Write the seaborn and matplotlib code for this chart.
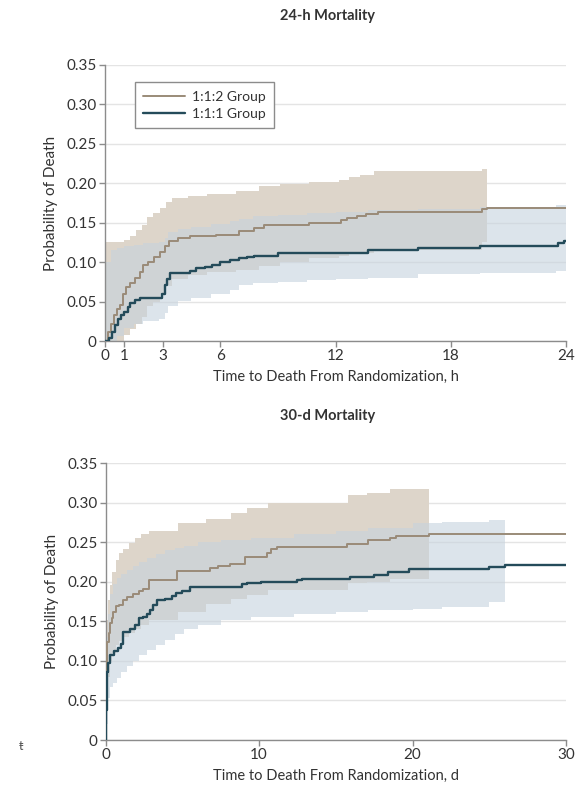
import numpy as np
import pandas as pd
import matplotlib
matplotlib.use("Agg")
import matplotlib.pyplot as plt
import seaborn as sns

# ---------------- 24-hour mortality (time in hours) ----------------
t112_h = [0, 0.15, 0.3, 0.45, 0.6, 0.8, 0.95, 1.1, 1.3, 1.55, 1.8, 2.0, 2.25, 2.55, 2.85,
          3.1, 3.35, 3.8, 4.4, 5.8, 7.0, 7.75, 8.3, 10.6, 12.3, 12.6, 13.1, 13.6, 14.2,
          19.6, 19.9, 24]
p112_h = [0, 0.012, 0.022, 0.033, 0.04, 0.046, 0.06, 0.068, 0.074, 0.08, 0.088, 0.096,
          0.1, 0.106, 0.113, 0.12, 0.127, 0.131, 0.133, 0.135, 0.139, 0.143, 0.147, 0.150,
          0.153, 0.156, 0.159, 0.161, 0.164, 0.167, 0.169, 0.169]

t111_h = [0, 0.2, 0.35, 0.5, 0.7, 0.85, 1.0, 1.2, 1.3, 1.55, 1.8, 2.95, 3.1, 3.25, 3.4,
          4.4, 4.75, 5.2, 5.55, 6.0, 6.5, 7.0, 7.4, 7.75, 9.0, 13.7, 16.3, 19.5, 23.6,
          23.9, 24]
p111_h = [0, 0.004, 0.012, 0.02, 0.028, 0.033, 0.037, 0.043, 0.048, 0.052, 0.054, 0.06,
          0.071, 0.079, 0.086, 0.089, 0.092, 0.094, 0.097, 0.1, 0.103, 0.105, 0.107, 0.108,
          0.112, 0.116, 0.118, 0.121, 0.124, 0.127, 0.127]

ci112_t_h = [0, 1.0, 1.3, 1.6, 1.9, 2.2, 2.5, 2.85, 3.2, 3.5, 4.3, 5.3, 6.8, 8.0, 9.1,
             10.6, 12.2, 12.7, 13.3, 14.0, 19.6, 19.9]
ci112_hi_h = [0.125, 0.128, 0.133, 0.141, 0.147, 0.157, 0.162, 0.169, 0.176, 0.181, 0.184,
              0.187, 0.19, 0.197, 0.199, 0.2015, 0.204, 0.208, 0.211, 0.2155, 0.2185, 0.2185]
ci112_lo_h = [0, 0.008, 0.015, 0.022, 0.03, 0.045, 0.05, 0.06, 0.07, 0.078, 0.084, 0.087,
              0.09, 0.095, 0.1, 0.105, 0.108, 0.11, 0.112, 0.115, 0.125, 0.127]

ci111_t_h = [0, 0.3, 0.6, 1.0, 1.5, 2.0, 2.8, 3.1, 3.3, 3.8, 4.5, 5.5, 6.5, 7.0, 7.7, 9.0,
             10.5, 12.0, 13.7, 16.3, 19.5, 23.5, 24]
ci111_lo_h = [0, 0, 0.006, 0.016, 0.022, 0.025, 0.028, 0.035, 0.045, 0.051, 0.055, 0.06,
              0.065, 0.071, 0.074, 0.075, 0.0775, 0.078, 0.08, 0.0845, 0.0866, 0.089, 0.089]
ci111_hi_h = [0.1, 0.115, 0.118, 0.12, 0.122, 0.124, 0.126, 0.13, 0.138, 0.142, 0.145, 0.148,
              0.152, 0.155, 0.158, 0.16, 0.162, 0.164, 0.166, 0.168, 0.17, 0.172, 0.172]

# ---------------- 30-day mortality (time in days) ----------------
t112_d = [0, 0.05, 0.1, 0.2, 0.3, 0.4, 0.5, 0.7, 0.9, 1.15, 1.4, 1.8, 2.15, 2.45, 2.85,
          4.65, 6.8, 7.3, 8.1, 9.1, 10.5, 10.8, 11.15, 15.7, 17.1, 18.5, 18.9, 21.1, 30]
p112_d = [0, 0.09, 0.124, 0.135, 0.148, 0.154, 0.162, 0.169, 0.171, 0.177, 0.181, 0.185,
          0.188, 0.191, 0.202, 0.214, 0.217, 0.22, 0.223, 0.231, 0.237, 0.241, 0.244,
          0.2475, 0.253, 0.255, 0.258, 0.261, 0.261]

t111_d = [0, 0.03, 0.08, 0.15, 0.3, 0.55, 0.8, 1.0, 1.15, 1.6, 1.9, 2.2, 2.45, 2.7, 2.9,
          3.1, 3.35, 3.9, 4.3, 4.6, 4.95, 5.5, 8.9, 9.2, 10.1, 12.5, 12.8, 15.9, 17.5,
          18.4, 19.8, 25.0, 26.0, 30]
p111_d = [0, 0.038, 0.086, 0.097, 0.108, 0.113, 0.116, 0.121, 0.137, 0.14, 0.145, 0.154,
          0.156, 0.16, 0.165, 0.171, 0.177, 0.179, 0.182, 0.1855, 0.189, 0.193, 0.197,
          0.1985, 0.2003, 0.2025, 0.2035, 0.2066, 0.209, 0.213, 0.216, 0.219, 0.222, 0.222]

ci112_t_d = [0, 0.05, 0.15, 0.3, 0.45, 0.65, 0.9, 1.15, 1.5, 1.9, 2.3, 2.85, 4.75, 6.55,
             8.2, 9.2, 10.6, 15.8, 17.0, 18.5, 21.06]
ci112_hi_d = [0.10, 0.152, 0.177, 0.196, 0.213, 0.228, 0.236, 0.242, 0.249, 0.255, 0.261,
              0.265, 0.275, 0.28, 0.287, 0.294, 0.30, 0.31, 0.313, 0.318, 0.318]
ci112_lo_d = [0, 0.05, 0.08, 0.1, 0.11, 0.12, 0.125, 0.13, 0.135, 0.14, 0.145, 0.152,
              0.162, 0.172, 0.178, 0.183, 0.19, 0.198, 0.2, 0.204, 0.207]

ci111_t_d = [0, 0.05, 0.15, 0.3, 0.5, 0.75, 1.0, 1.4, 1.8, 2.2, 2.7, 3.3, 3.9, 4.5, 5.1,
             6.0, 7.5, 9.5, 12.3, 15, 17.1, 20, 21.9, 25.0, 26.0]
ci111_lo_d = [0, 0.02, 0.053, 0.067, 0.072, 0.078, 0.0865, 0.093, 0.1, 0.107, 0.114, 0.12,
              0.1265, 0.134, 0.141, 0.146, 0.152, 0.156, 0.16, 0.162, 0.164, 0.166, 0.168,
              0.175, 0.175]
ci111_hi_d = [0.08, 0.13, 0.16, 0.185, 0.197, 0.205, 0.21, 0.215, 0.22, 0.225, 0.23, 0.235,
              0.24, 0.243, 0.246, 0.25, 0.253, 0.256, 0.26, 0.264, 0.268, 0.274, 0.276,
              0.278, 0.278]

groups = ["1:1:2 Group", "1:1:1 Group"]
line_colors = {"1:1:2 Group": "#9a8b78", "1:1:1 Group": "#244b5a"}
line_widths = {"1:1:2 Group": 1.4, "1:1:1 Group": 1.7}
band_112 = "#ddd5ca"
band_111 = "#c6d3de"

yticks = [0, 0.05, 0.10, 0.15, 0.20, 0.25, 0.30, 0.35]
ytick_labels = ["0", "0.05", "0.10", "0.15", "0.20", "0.25", "0.30", "0.35"]
xticks_h = [0, 1, 3, 6, 12, 18, 24]
xticks_d = [0, 10, 20, 30]

sns.set_theme(style="white")
plt.rcParams["font.family"] = ["Lato", "DejaVu Sans"]
TEXT = "#333333"
SPINE = "#8c8c8c"
FS = 11

fig = plt.figure(figsize=(5.77, 7.85), dpi=100)
ax_top = fig.add_axes([0.182, 0.5656, 0.799, 0.3516])
ax_bot = fig.add_axes([0.183, 0.0573, 0.798, 0.3525])


def draw_panel(ax, t112, p112, t111, p111, c112, c111, xticks, xmax, xlabel, legend):
    # confidence bands (step functions)
    ax.fill_between(c112[0], c112[1], c112[2], step="post", color=band_112,
                    linewidth=0, zorder=1)
    ax.fill_between(c111[0], c111[1], c111[2], step="post", color=band_111,
                    alpha=0.6, linewidth=0, zorder=2)
    df = pd.concat([
        pd.DataFrame({"t": t112, "p": p112, "group": groups[0]}),
        pd.DataFrame({"t": t111, "p": p111, "group": groups[1]}),
    ], ignore_index=True)
    for g in groups:
        sns.lineplot(data=df[df["group"] == g], x="t", y="p", color=line_colors[g],
                     linewidth=line_widths[g], drawstyle="steps-post", estimator=None,
                     sort=False, ax=ax, label=g if legend else None, zorder=3)
    ax.set_xlim(0, xmax)
    ax.set_ylim(0, 0.35)
    ax.set_yticks(yticks)
    ax.set_yticklabels(ytick_labels)
    ax.set_xticks(xticks)
    ax.set_xticklabels([str(v) for v in xticks])
    ax.grid(axis="y", color="#e4e4e4", linewidth=1.0, zorder=0)
    ax.set_axisbelow(True)
    for s in ["top", "right"]:
        ax.spines[s].set_visible(False)
    for s in ["left", "bottom"]:
        ax.spines[s].set_color(SPINE)
        ax.spines[s].set_linewidth(1.0)
    ax.tick_params(axis="both", which="major", length=4, width=1.0, color=SPINE,
                   labelsize=FS, labelcolor=TEXT, pad=2, direction="out",
                   left=True, bottom=True)
    ax.set_ylabel("Probability of Death", fontsize=FS, color=TEXT, labelpad=6)
    ax.set_xlabel(xlabel, fontsize=10.5, color=TEXT, labelpad=5)
    if legend:
        leg = ax.legend(loc="upper left", bbox_to_anchor=(0.065, 0.937), frameon=True,
                        fancybox=False, framealpha=1, edgecolor="#8c8c8c",
                        fontsize=10, handlelength=3.0, handletextpad=0.5,
                        borderpad=0.6, labelspacing=0.35, borderaxespad=0)
        leg.get_frame().set_linewidth(1.0)
        for txt in leg.get_texts():
            txt.set_color(TEXT)
    else:
        if ax.get_legend() is not None:
            ax.get_legend().remove()


draw_panel(ax_top, t112_h, p112_h, t111_h, p111_h,
           (ci112_t_h, ci112_lo_h, ci112_hi_h), (ci111_t_h, ci111_lo_h, ci111_hi_h),
           xticks_h, 24, "Time to Death From Randomization, h", True)
draw_panel(ax_bot, t112_d, p112_d, t111_d, p111_d,
           (ci112_t_d, ci112_lo_d, ci112_hi_d), (ci111_t_d, ci111_lo_d, ci111_hi_d),
           xticks_d, 30, "Time to Death From Randomization, d", False)

fig.text(0.568, 1 - 16 / 785, "24-h Mortality", ha="center", va="center",
         fontsize=10.5, fontweight="bold", color=TEXT)
fig.text(0.568, 1 - 416 / 785, "30-d Mortality", ha="center", va="center",
         fontsize=10.5, fontweight="bold", color=TEXT)
fig.text(0.036, 1 - 746 / 785, "ŧ", ha="center", va="center", fontsize=9,
         color="#555555", family=["Lato", "DejaVu Sans"])

fig.savefig("out.png", dpi=100, facecolor="white")
